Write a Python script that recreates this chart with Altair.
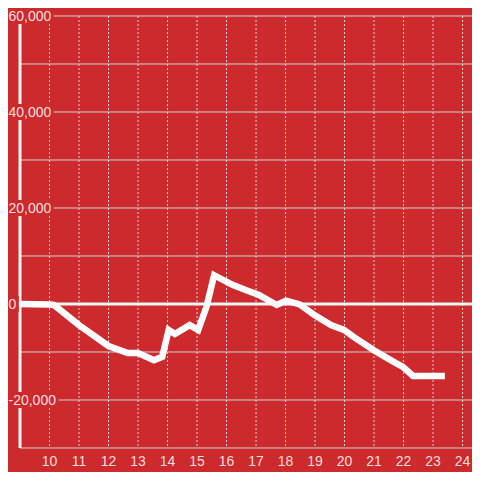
import altair as alt
import pandas as pd

# ---- data ----
hours = [9.0, 10.0, 10.15, 11.0, 12.0, 12.65, 13.0, 13.54, 13.82, 14.04, 14.25,
         14.75, 15.04, 15.32, 15.58, 16.2, 16.65, 17.1, 17.7, 18.02, 18.48,
         18.98, 19.54, 19.98, 20.32, 20.98, 21.65, 21.98, 22.32, 23.4]
values = [0, -100, -200, -4400, -8750, -10200, -10200, -11700, -11000, -5400,
          -6250, -4400, -5400, -600, 6000, 4000, 2900, 1900, -200, 700, -100,
          -2300, -4400, -5400, -6900, -9600, -12000, -13100, -15000, -15000]

y_ticks = [60000, 40000, 20000, 0, -20000]
y_labels = ["60,000", "40,000", "20,000", "0", "-20,000"]
y_grid = [-30000, -20000, -10000, 0, 10000, 20000, 30000, 40000, 50000, 60000]
x_ticks = [10, 11, 12, 13, 14, 15, 16, 17, 18, 19, 20, 21, 22, 23, 24]
x_labels = ["10", "11", "12", "13", "14", "15", "16", "17", "18", "19", "20",
            "21", "22", "23", "24"]

# ---- styling ----
W, H = 452, 432
X_MAX = 24.32
BG = "#cd2a2e"
GRID = "#d2d2d2"
TXT = "#f6dddd"
FONT = "Liberation Sans"
FS = 14
PX_PER_HOUR = W / (X_MAX - 9)

xs = alt.Scale(domain=[9, X_MAX], nice=False, zero=False)
ys = alt.Scale(domain=[-30000, 60000], nice=False, zero=False)


def text_width(s):
    w = 0.0
    for ch in s:
        if ch.isdigit():
            w += 0.556 * FS
        elif ch == ",":
            w += 0.278 * FS
        elif ch == "-":
            w += 0.333 * FS
    return w


LABEL_LEFT = -11.5  # pixels relative to plot left
lab_df = pd.DataFrame({
    "v": y_ticks,
    "label": y_labels,
    "bx0": [9 + (LABEL_LEFT - 6) / PX_PER_HOUR] * len(y_ticks),
    "bx": [9 + (LABEL_LEFT + text_width(s) + 2.5) / PX_PER_HOUR for s in y_labels],
})

line_df = pd.DataFrame({"h": hours, "v": values})

hgrid = alt.Chart(pd.DataFrame({"v": y_grid})).mark_rule(
    color=GRID, strokeWidth=1
).encode(
    y=alt.Y("v:Q", scale=ys, axis=None),
    x=alt.value(0), x2=alt.value(W),
)

vgrid = alt.Chart(pd.DataFrame({"h": x_ticks})).mark_rule(
    color=GRID, strokeWidth=1, strokeDash=[2, 2]
).encode(
    x=alt.X("h:Q", scale=xs, axis=None),
    y=alt.value(0), y2=alt.value(H),
)

axis_line = alt.Chart(pd.DataFrame({"h": [9]})).mark_rule(
    color="#f4f4f4", strokeWidth=3
).encode(
    x=alt.X("h:Q", scale=xs, axis=None),
    y=alt.value(0), y2=alt.value(H),
)

zero_line = alt.Chart(pd.DataFrame({"v": [0]})).mark_rule(
    color="#f6f6f6", strokeWidth=3
).encode(
    y=alt.Y("v:Q", scale=ys, axis=None),
    x=alt.value(-12), x2=alt.value(W),
)

series = alt.Chart(line_df).mark_line(
    color="#ffffff", strokeWidth=6.5
).encode(
    x=alt.X("h:Q", scale=xs, axis=None),
    y=alt.Y("v:Q", scale=ys, axis=None),
)

boxes = alt.Chart(lab_df).mark_rule(color=BG, strokeWidth=16).encode(
    x=alt.X("bx0:Q", scale=xs, axis=None),
    x2="bx:Q",
    y=alt.Y("v:Q", scale=ys, axis=None),
)

ylab = alt.Chart(lab_df).mark_text(
    align="left", baseline="alphabetic", dy=5, fontSize=FS, font=FONT, color=TXT
).encode(
    x=alt.value(LABEL_LEFT),
    y=alt.Y("v:Q", scale=ys, axis=None),
    text="label:N",
)

xlab = alt.Chart(pd.DataFrame({"h": x_ticks, "label": x_labels})).mark_text(
    align="center", baseline="alphabetic", fontSize=FS, font=FONT, color=TXT
).encode(
    x=alt.X("h:Q", scale=xs, axis=None),
    y=alt.value(H + 18),
    text="label:N",
)

chart = alt.layer(
    hgrid, vgrid, axis_line, zero_line, series, boxes, ylab, xlab
).properties(
    width=W, height=H,
    padding={"left": 12, "top": 8, "right": 0, "bottom": 24},
    autosize=alt.AutoSizeParams(type="none"),
    background=BG,
).configure_view(stroke=None, fill=BG)

chart.save("out.html", embed_options={"renderer": "svg", "actions": False})
